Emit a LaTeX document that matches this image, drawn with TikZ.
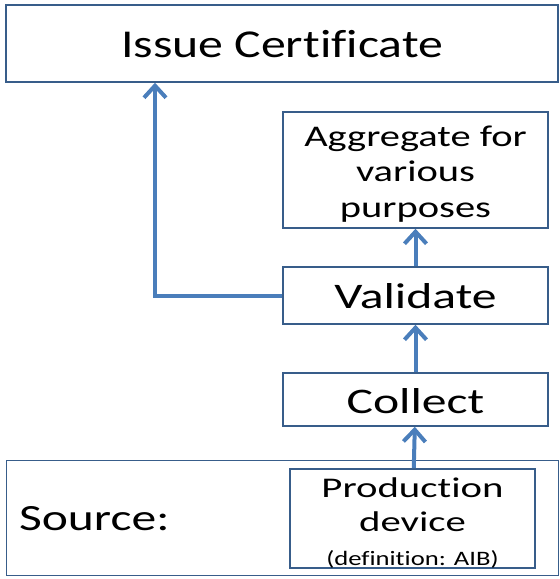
\documentclass[tikz,border=0pt]{standalone}
\usepackage{fontspec}
\setmainfont[Ligatures=NoCommon]{Carlito}
\usepackage{xcolor}
\usetikzlibrary{arrows.meta}
\definecolor{boxline}{HTML}{385D8A}
\definecolor{flowline}{HTML}{4A7EBB}
\def\stepwidth{265pt}
% size, line skip, horizontal stretch
\newcommand\boxfont[3]{\fontsize{#1}{#2}\selectfont\addfontfeature{FakeStretch=#3}}

\begin{document}
\begin{tikzpicture}[x=1pt,y=-1pt,line width=1.5pt]
    \tikzstyle{box}=[rectangle,draw=boxline,inner sep=0pt,align=center]
    \tikzstyle{wide box}=[box,minimum width=552pt]
    \tikzstyle{step box}=[box,minimum width=\stepwidth]
    \tikzstyle{big}=[font=\boxfont{36}{42}{1.38},text depth=0pt]
    \tikzstyle{flow}=[draw=flowline,line width=4pt,-{Straight Barb[length=12pt,width=22pt]}]

    \useasboundingbox (0,0) rectangle (560,579);

    % Draw the outer boxes
    \node[wide box,font=\boxfont{39.5}{46}{1.26},text height=28.5pt,text depth=0pt,minimum height=77pt]
        (issue) at (282,43.5) {Issue Certificate};
    \node[wide box,minimum height=115pt] (source) at (282.5,518) {};
    \node[anchor=base west,font=\boxfont{37}{44}{1.34}] (srclabel) at (15,530.5) {Source:};

    % Draw the steps on the right
    \node[step box,font=\boxfont{30}{35.5}{1.35},minimum height=116pt] (agg) at (415.5,170)
        {\rule{0pt}{28.5pt}Aggregate for\\various\\purposes};
    \node[step box,big,text height=25pt,minimum height=57pt] (valid) at (415.5,295.5) {Validate};
    \node[step box,big,text height=27pt,minimum height=53pt] (collect) at (415.5,399.5) {Collect};
    \node[box,font=\boxfont{28.5}{34}{1.43},minimum width=245pt,minimum height=97pt] (prod) at (412.5,518.5)
        {\rule{0pt}{28.4pt}Production\\device\\\boxfont{20.5}{28}{1.3}(definition: AIB)};

    % Connect the steps
    \path[flow] (prod) edge (collect);
    \path[flow] (collect) edge (valid);
    \path[flow] (valid) edge (agg);

    % Validated data goes back up to the certificate
    \coordinate (turn) at (155,295.5);
    \draw[flow] (valid.west) -- (turn) -- (turn |- issue.south);
\end{tikzpicture}
\end{document}
